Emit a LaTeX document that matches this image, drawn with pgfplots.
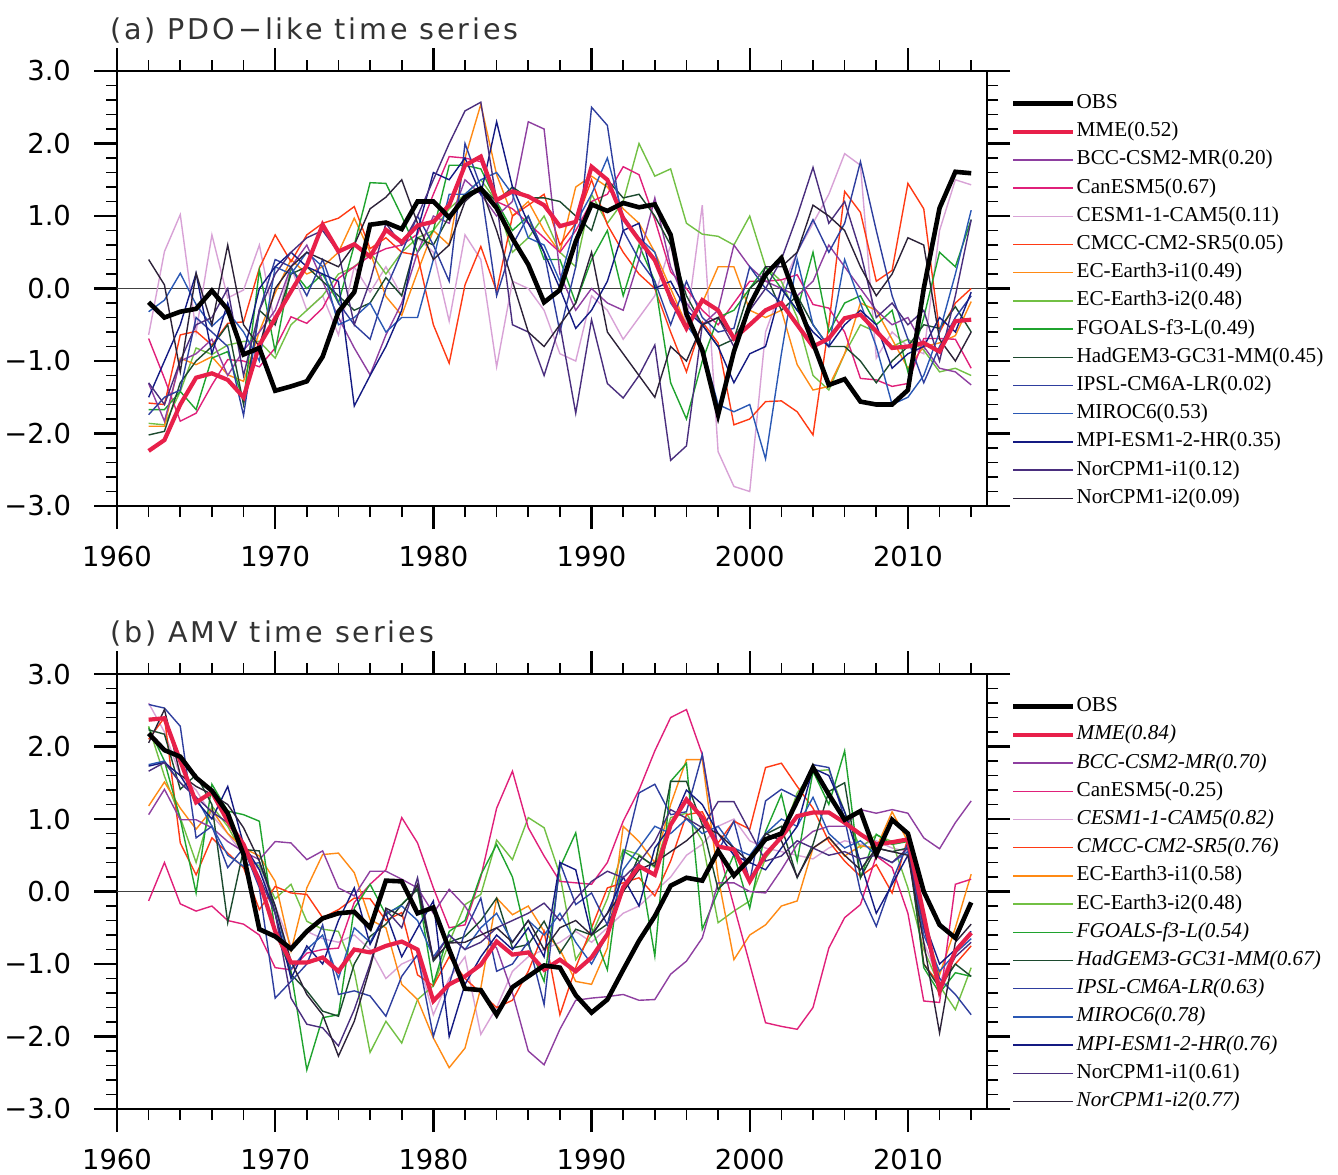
\documentclass[border=0pt]{standalone}
\usepackage{fontspec}
\setmainfont{Liberation Serif}
\newfontfamily\tickfont{DejaVu Sans}
\newfontfamily\titlefont[LetterSpace=10]{DejaVu Sans}
\usepackage{pgfplots}
\pgfplotsset{compat=1.18}
\usepackage{pgfplotstable}

\definecolor{cBCC}{HTML}{8E3FA0}
\definecolor{cCan}{HTML}{E0207A}
\definecolor{cCESM}{HTML}{D8A2D6}
\definecolor{cCMCC}{HTML}{FF3A14}
\definecolor{cECA}{HTML}{FF8A14}
\definecolor{cECB}{HTML}{72C044}
\definecolor{cFGO}{HTML}{1FA32E}
\definecolor{cHad}{HTML}{1C4A2E}
\definecolor{cIPSL}{HTML}{2E3E9E}
\definecolor{cMIROC}{HTML}{2A58B4}
\definecolor{cMPI}{HTML}{141A82}
\definecolor{cNorA}{HTML}{4A2E7E}
\definecolor{cNorB}{HTML}{2C2238}
\definecolor{cMME}{HTML}{E8204A}

% PDO-like time series
\pgfplotstableread{
year obs mme bcc can cesm cmcc ecA ecB fgo had ipsl miroc mpi norA norB
1962 -0.19 -2.24 -1.31 -0.69 -0.64 -1.58 -1.90 -1.86 -1.67 -2.02 -1.74 -0.32 -1.50 -1.30 0.40
1963 -0.40 -2.09 -1.83 -1.24 0.51 -1.60 -1.90 -1.88 -1.67 -1.97 -1.50 -0.16 -1.00 -1.60 0.05
1964 -0.32 -1.60 -1.00 -1.83 1.02 -0.64 -0.96 -1.42 -1.42 -1.30 -1.40 0.21 -0.50 -1.00 -1.15
1965 -0.28 -1.23 -0.90 -1.72 -0.60 -0.59 -1.05 -0.82 -1.67 -1.00 -0.40 -0.22 0.21 -0.50 0.21
1966 -0.03 -1.17 -0.70 -1.33 0.74 -0.78 -0.94 -0.91 -0.96 -0.80 -0.60 -0.52 -0.90 -0.40 -0.50
1967 -0.29 -1.26 -1.20 -0.98 -0.13 -0.48 -1.19 -0.78 -0.87 -0.50 -0.80 -0.32 -0.20 0.00 0.60
1968 -0.91 -1.50 -0.85 -1.00 -0.02 -0.46 -1.28 -0.73 -1.56 -1.60 -1.75 -0.60 -0.90 -1.20 -0.50
1969 -0.82 -0.78 -0.60 -1.08 0.60 0.28 -0.59 -0.73 0.26 -0.30 -0.30 -1.00 0.00 -0.30 -0.80
1970 -1.41 -0.41 -0.30 -0.82 -0.50 0.74 -0.06 -0.96 -0.87 -0.50 0.40 0.30 0.30 0.20 0.00
1971 -1.35 -0.04 0.30 -0.39 0.30 0.37 0.40 -0.50 0.28 0.20 0.30 0.20 0.50 0.50 0.30
1972 -1.28 0.32 0.60 -0.48 -0.30 0.74 0.20 -0.30 0.00 0.30 -0.10 0.50 0.30 0.70 0.50
1973 -0.94 0.88 0.10 -0.27 -0.10 0.90 0.30 -0.10 0.20 0.10 0.40 0.30 0.20 0.80 0.40
1974 -0.32 0.51 -0.40 0.14 -0.64 0.97 0.50 0.20 -0.20 -0.10 -0.20 -0.50 0.10 0.50 0.30
1975 -0.05 0.61 -0.82 0.30 0.30 1.13 0.97 0.30 0.60 -0.30 -0.50 -0.40 -1.62 -0.50 0.60
1976 0.88 0.44 -1.19 0.45 -0.05 0.55 0.50 0.50 1.46 -0.20 -0.70 -0.20 -1.20 0.10 1.10
1977 0.91 0.81 -0.64 0.55 0.30 0.70 -0.11 0.20 1.45 0.15 0.00 -0.60 -0.80 0.90 1.26
1978 0.82 0.64 -0.20 0.60 -0.10 0.50 -0.37 0.50 1.00 -0.10 0.50 -0.40 -0.30 0.60 1.50
1979 1.20 0.87 0.50 0.75 0.70 0.46 0.23 0.70 0.50 0.70 1.00 -0.40 0.80 1.00 0.90
1980 1.20 0.92 1.00 1.30 0.50 -0.50 0.80 0.80 0.80 0.60 0.60 0.40 1.60 1.50 0.40
1981 0.98 1.15 0.90 1.82 -0.45 -1.03 0.60 1.10 1.70 1.00 0.10 1.30 1.50 2.00 0.60
1982 1.26 1.70 1.50 1.80 0.74 0.05 1.80 1.30 1.70 1.30 2.00 1.30 1.80 2.45 1.20
1983 1.38 1.82 1.30 1.75 0.40 0.58 2.54 1.50 1.65 1.40 1.40 1.50 1.30 2.57 1.40
1984 1.11 1.22 1.00 1.20 -1.08 -0.04 1.57 1.20 1.20 1.20 -0.10 1.60 2.30 1.20 0.80
1985 0.69 1.34 1.20 1.10 0.10 1.00 1.00 0.50 0.80 1.40 0.60 1.30 1.40 -0.50 0.10
1986 0.33 1.27 2.30 0.90 0.00 1.15 1.20 0.70 1.00 1.25 1.00 0.70 0.90 -0.60 -0.60
1987 -0.19 1.15 2.20 0.70 -0.30 1.30 0.80 1.00 0.40 1.25 0.50 0.60 0.50 -1.20 -0.80
1988 -0.02 0.86 0.20 0.50 -0.90 0.60 0.50 0.50 0.40 1.20 -0.60 0.10 0.00 -0.50 -0.50
1989 0.65 0.92 -0.30 0.80 -1.00 0.90 1.40 0.30 -0.20 1.00 0.30 0.90 -0.55 -1.72 -0.20
1990 1.16 1.68 0.00 1.20 -0.10 1.50 1.55 1.30 0.40 0.80 2.50 1.30 -0.30 -0.43 0.50
1991 1.07 1.50 -0.20 1.30 -0.30 0.88 1.40 0.90 0.80 1.50 2.25 1.80 0.10 -1.31 -0.60
1992 1.18 0.97 -0.30 1.68 -0.70 0.50 1.10 1.20 -0.10 1.25 0.80 1.00 0.80 -1.51 -0.90
1993 1.12 0.67 0.40 1.57 -0.40 0.20 0.90 2.00 0.60 1.30 0.40 0.70 0.90 -1.20 -1.20
1994 1.16 0.39 1.25 0.95 -0.10 0.00 0.50 1.55 0.10 1.00 0.10 0.50 0.00 -0.78 -1.50
1995 0.74 -0.13 0.30 0.23 0.60 -0.60 0.00 1.65 -1.30 0.60 -0.50 -0.20 0.10 -2.37 -0.80
1996 -0.35 -0.55 -0.20 0.00 -0.50 -1.15 -0.50 0.90 -1.80 -0.10 0.10 -0.50 -0.30 -2.17 -1.00
1997 -0.85 -0.16 -0.50 -0.30 1.15 -0.46 -0.20 0.75 -1.00 -0.50 -0.40 -0.80 -0.50 -0.50 -0.50
1998 -1.74 -0.30 -0.30 -0.50 -2.25 -0.75 0.30 0.72 -0.40 -0.80 -0.60 -1.60 -0.80 -0.40 -0.40
1999 -0.87 -0.69 0.60 -0.20 -2.73 -1.88 0.30 0.60 -0.30 -0.70 -0.55 -1.70 -1.30 -0.80 -0.70
2000 -0.23 -0.50 0.30 0.10 -2.80 -1.80 -0.30 1.00 0.00 0.00 0.30 -1.60 -0.90 -0.30 -0.30
2001 0.19 -0.30 0.10 0.10 -0.60 -1.56 -0.40 0.30 0.30 0.20 0.00 -2.35 -0.80 0.00 0.30
2002 0.42 -0.20 0.00 0.12 0.00 -1.55 -0.30 0.10 0.00 -0.30 -0.20 -0.90 0.00 0.40 0.30
2003 -0.18 -0.50 -0.10 0.19 0.50 -1.70 -1.05 -0.40 -0.30 -0.10 0.50 0.40 -0.30 1.00 0.50
2004 -0.75 -0.80 0.10 -0.22 0.90 -2.02 -1.40 -1.20 0.50 -0.50 0.95 -0.50 -0.60 1.67 1.15
2005 -1.33 -0.69 0.60 -0.27 1.30 -0.50 -1.35 -1.40 -0.60 -0.80 0.50 -0.80 -0.80 0.90 1.00
2006 -1.25 -0.41 0.30 -0.60 1.86 1.34 -0.90 -0.90 -0.20 -0.80 0.90 0.40 -0.50 1.20 0.80
2007 -1.56 -0.36 0.00 -1.24 1.70 1.05 -0.20 -0.50 -0.10 -1.00 1.75 -0.20 -0.30 0.50 0.30
2008 -1.60 -0.59 -0.30 -1.26 -0.96 0.10 -0.30 -0.60 -0.50 -1.30 0.80 -0.80 -0.50 -0.40 -0.10
2009 -1.60 -0.82 -0.50 -1.35 -0.60 0.25 -0.70 -0.80 -0.30 -1.00 -0.10 -1.60 -1.10 -0.20 0.20
2010 -1.40 -0.80 -0.40 -1.31 -0.80 1.45 -1.10 -0.70 -1.15 -0.80 -0.70 -1.50 -0.90 -0.50 0.70
2011 0.00 -0.75 -0.80 -0.69 -0.90 1.10 -0.80 -0.85 -0.40 -0.50 -1.30 -1.20 -0.80 -0.30 0.60
2012 1.11 -0.87 -1.10 -0.69 0.80 -0.60 -0.75 -1.15 0.50 -0.55 -0.80 -0.60 -0.40 -1.00 -0.70
2013 1.61 -0.45 -1.15 -0.70 1.50 -0.20 -0.65 -1.10 0.30 -0.25 -0.40 0.20 -0.60 -0.10 -1.00
2014 1.59 -0.43 -1.33 -1.10 1.43 0.00 -0.18 -1.20 0.95 -0.60 -0.10 1.08 -0.05 0.95 -0.60
}\pdotable

% AMV time series
\pgfplotstableread{
year obs mme bcc can cesm cmcc ecA ecB fgo had ipsl miroc mpi norA norB
1962 2.18 2.37 1.06 -0.13 2.60 2.10 1.18 2.28 2.26 2.23 2.58 1.75 1.73 1.66 2.05
1963 1.95 2.39 1.41 0.40 2.20 2.40 1.51 1.59 1.80 2.17 2.53 1.80 1.78 1.78 2.51
1964 1.86 1.80 0.99 -0.17 1.60 0.67 1.15 1.02 1.00 1.41 2.28 1.50 1.60 1.50 1.61
1965 1.57 1.23 0.99 -0.27 1.40 0.23 0.86 0.40 -0.02 1.61 0.74 1.30 1.25 1.30 1.45
1966 1.39 1.37 0.88 -0.20 1.05 0.74 1.13 1.18 1.48 1.20 0.90 0.90 1.00 1.10 1.34
1967 1.08 0.97 0.69 -0.40 0.80 0.53 0.80 0.90 1.11 -0.43 0.33 0.50 1.45 0.95 1.20
1968 0.51 0.65 0.55 -0.45 0.50 0.33 0.60 0.50 1.06 0.58 0.60 0.35 0.65 0.60 0.88
1969 -0.52 0.14 0.44 -0.60 0.30 -0.25 0.49 0.35 0.97 0.56 0.05 0.40 0.30 0.20 0.42
1970 -0.62 -0.55 0.69 -1.05 -0.20 0.07 0.14 -0.10 -0.55 -0.30 -1.47 -0.20 -0.30 -0.30 -0.20
1971 -0.79 -0.98 0.67 -1.08 -0.75 -0.02 -0.82 0.10 -1.10 -1.14 -1.24 -1.07 -1.20 -1.47 -0.96
1972 -0.55 -0.98 0.44 -0.85 -0.55 -0.04 0.05 -0.41 -2.46 -1.37 -1.00 -0.80 -0.75 -1.83 -1.42
1973 -0.37 -0.91 0.56 -0.80 -0.65 -0.36 0.51 -0.52 -1.74 -1.65 -0.46 -0.60 -1.00 -1.88 -1.70
1974 -0.30 -1.10 0.05 -0.78 -0.70 -0.25 0.53 -0.55 -1.70 -1.72 -1.42 -1.20 -0.40 -2.13 -2.27
1975 -0.28 -0.80 -0.06 -0.15 -0.60 -0.09 0.26 -1.10 -0.23 -1.00 -1.37 -0.50 0.05 -1.63 -1.79
1976 -0.50 -0.84 0.28 0.10 -0.80 -0.10 -0.39 -2.22 0.10 -0.62 -1.44 -0.70 -0.73 -1.00 -1.05
1977 0.15 -0.75 0.28 0.30 -1.20 -0.40 -0.50 -1.79 -0.32 -0.45 -1.72 -0.30 -0.30 -0.25 -0.23
1978 0.14 -0.69 0.17 1.02 -1.00 -0.29 -1.28 -2.09 -0.18 -0.18 -1.17 -0.20 -0.90 -0.50 -0.34
1979 -0.30 -0.80 0.05 0.67 -0.90 -1.15 -1.49 -1.49 0.05 0.03 -0.87 -0.40 -0.50 0.19 0.10
1980 -0.22 -1.51 -0.30 0.05 -1.70 -1.30 -2.02 -1.30 -1.28 -0.96 -2.00 -0.90 -0.13 -0.94 -0.94
1981 -0.80 -1.28 0.03 -0.50 -1.20 -0.90 -2.43 -0.70 -0.55 -0.70 -1.28 -0.60 -2.00 -0.60 -0.71
1982 -1.34 -1.17 -0.20 -0.46 -0.90 -1.20 -2.16 -0.18 -0.40 -0.62 -0.55 -0.80 -1.28 -0.80 -0.70
1983 -1.36 -1.01 -0.55 0.20 -1.97 -1.40 -1.33 -0.04 0.23 -0.40 -0.09 -0.50 -0.90 -0.70 -0.60
1984 -1.70 -0.69 -0.78 1.15 -1.60 -1.60 -0.09 0.71 0.65 -0.09 -1.10 -0.30 -0.60 -0.50 -0.50
1985 -1.32 -0.87 -1.40 1.66 -1.10 -1.50 -0.32 0.44 0.20 -0.78 -1.00 -0.70 -0.80 -0.40 -0.70
1986 -1.17 -0.84 -2.20 0.88 -0.90 -1.10 -0.20 1.02 -0.73 -0.73 -0.69 -0.40 -0.50 -0.30 -0.40
1987 -1.02 -1.08 -2.39 0.49 -0.80 -0.55 -0.55 0.88 -1.24 -0.41 -1.56 -0.60 -0.90 -0.16 -0.80
1988 -1.05 -0.94 -1.90 0.14 -0.70 -1.70 -0.80 0.23 0.33 -0.85 0.40 -0.30 0.40 -0.40 -0.50
1989 -1.43 -1.10 -1.50 0.12 -0.55 -1.05 -1.24 -0.94 0.81 -0.52 -0.18 -0.70 0.30 -0.10 -0.40
1990 -1.67 -0.91 -1.47 0.10 -0.70 -0.50 -1.28 -0.60 -0.50 -0.60 -0.02 -1.00 -0.60 0.14 -0.60
1991 -1.49 -0.59 -1.45 0.40 -0.50 0.05 -0.78 -0.10 -1.08 -0.45 -0.46 -0.60 -0.30 0.28 -0.30
1992 -1.08 0.06 -1.42 0.97 -0.30 0.12 0.90 0.58 0.56 0.00 0.46 0.30 0.20 0.19 0.00
1993 -0.68 0.35 -1.50 1.40 -0.20 0.19 0.69 0.51 0.42 0.49 1.36 0.60 -0.20 0.40 0.30
1994 -0.34 0.23 -1.49 1.94 0.00 -0.06 0.40 0.33 -0.89 0.35 1.48 0.90 0.60 0.69 0.40
1995 0.08 0.92 -1.14 2.40 0.20 0.42 1.20 1.02 1.52 1.52 1.06 0.80 0.90 1.13 0.55
1996 0.19 1.27 -0.96 2.51 0.50 1.06 1.82 1.08 1.77 1.52 1.10 1.00 1.40 1.01 0.70
1997 0.15 1.02 -0.64 1.89 0.65 1.10 1.82 0.70 -0.52 0.92 1.89 0.80 1.20 0.88 0.90
1998 0.56 0.62 0.12 0.60 0.90 0.67 0.20 -0.43 0.00 0.03 0.56 0.90 0.80 1.24 0.80
1999 0.22 0.58 0.12 -0.20 1.00 0.97 -0.94 -0.27 0.51 0.25 0.97 0.60 0.50 1.24 0.60
2000 0.45 0.14 0.00 -1.00 0.70 0.86 -0.60 -0.13 -0.23 0.42 0.14 0.50 0.40 0.83 0.40
2001 0.72 0.51 -0.02 -1.81 0.60 1.71 -0.46 0.46 0.83 0.79 1.25 0.80 0.30 0.42 0.80
2002 0.80 0.75 0.30 -1.86 0.55 1.77 -0.20 0.74 1.34 0.90 1.41 1.00 0.60 0.49 0.70
2003 1.25 1.04 0.65 -1.90 0.50 1.45 -0.13 1.36 0.42 0.19 1.30 0.90 0.90 0.70 0.20
2004 1.71 1.09 0.83 -1.60 0.45 1.15 0.60 1.66 1.66 0.65 1.75 1.30 1.70 0.60 0.60
2005 1.34 1.09 0.90 -0.78 0.60 0.69 0.74 1.68 1.20 1.38 1.71 0.80 1.60 0.50 0.75
2006 0.99 0.95 0.90 -0.36 0.70 0.42 0.49 1.10 1.94 1.50 1.00 0.60 1.10 0.55 0.50
2007 1.11 0.79 1.13 -0.18 0.65 0.21 0.63 0.60 0.19 0.19 0.00 0.70 0.40 0.45 0.30
2008 0.51 0.65 1.08 0.49 0.70 0.37 0.60 0.78 0.79 0.60 -0.48 0.50 -0.30 0.50 0.60
2009 0.99 0.68 1.13 0.33 0.60 -0.02 1.10 0.69 0.65 0.55 0.14 0.40 0.10 0.40 0.55
2010 0.80 0.72 1.08 -0.30 0.55 0.74 0.69 0.05 0.69 0.60 0.67 0.55 0.50 0.60 0.50
2011 0.00 -0.32 0.74 -1.51 -0.70 -1.00 -0.41 -0.80 -1.05 -1.00 -0.50 -0.60 -0.40 -0.50 -0.70
2012 -0.46 -1.37 0.59 -1.53 -1.25 -1.28 -1.15 -1.30 -1.40 -1.33 -1.20 -1.10 -1.00 -1.30 -1.95
2013 -0.64 -0.82 0.95 0.10 -0.80 -1.00 -0.50 -1.63 -1.12 -1.00 -1.42 -0.85 -0.80 -0.90 -0.70
2014 -0.15 -0.57 1.25 0.17 -0.60 -0.75 0.24 -1.05 -1.17 -1.17 -1.70 -0.65 -0.55 -0.70 -0.45
}\amvtable

\pgfplotsset{
  panel/.style={
    scale only axis, width=435pt, height=217.5pt,
    xmin=1960, xmax=2015, ymin=-3, ymax=3,
    xtick={1960,1970,1980,1990,2000,2010},
    xticklabels={1960,1970,1980,1990,2000,2010},
    ytick={-3,-2,-1,0,1,2,3},
    yticklabels={−3.0,−2.0,−1.0,0.0,1.0,2.0,3.0},
    minor xtick={1962,1964,1966,1968,1972,1974,1976,1978,1982,1984,1986,1988,1992,1994,1996,1998,2002,2004,2006,2008,2012,2014},
    minor ytick={-2.8,-2.6,-2.4,-2.2,-1.8,-1.6,-1.4,-1.2,-0.8,-0.6,-0.4,-0.2,0.2,0.4,0.6,0.8,1.2,1.4,1.6,1.8,2.2,2.4,2.6,2.8},
    tick align=outside,
    major tick length=11.5pt, minor tick length=5.5pt,
    axis line style={line width=1.4pt},
    every major tick/.append style={line width=1.2pt, black},
    every minor tick/.append style={line width=0.8pt, black},
    ticklabel style={font=\tickfont\fontsize{13.7}{16}\selectfont},
    yticklabel style={xshift=-8pt},
    xticklabel style={yshift=-5pt},
    legend style={at={(1.020,0.961)}, anchor=north west, draw=none, fill=none,
      font=\fontsize{10.6}{12}\selectfont, row sep=2.9pt, column sep=0pt,
      nodes={inner sep=0.6pt, text height=7.5pt, text depth=2.5pt}},
    legend cell align=left,
    legend image code/.code={\draw[##1] (0pt,0pt) -- (30pt,0pt);},
    clip=true,
  },
  model/.style={forget plot, line width=0.7pt},
}

\newcommand{\drawall}[1]{%
  \addplot[forget plot, black!75, line width=0.6pt] coordinates {(1960,0) (2015,0)};
  \addplot[model, cCESM]  table[x=year, y=cesm]  {#1};
  \addplot[model, cECB]   table[x=year, y=ecB]   {#1};
  \addplot[model, cECA]   table[x=year, y=ecA]   {#1};
  \addplot[model, cCMCC]  table[x=year, y=cmcc]  {#1};
  \addplot[model, cCan]   table[x=year, y=can]   {#1};
  \addplot[model, cFGO]   table[x=year, y=fgo]   {#1};
  \addplot[model, cBCC]   table[x=year, y=bcc]   {#1};
  \addplot[model, cHad]   table[x=year, y=had]   {#1};
  \addplot[model, cIPSL]  table[x=year, y=ipsl]  {#1};
  \addplot[model, cMIROC] table[x=year, y=miroc] {#1};
  \addplot[model, cMPI]   table[x=year, y=mpi]   {#1};
  \addplot[model, cNorA]  table[x=year, y=norA]  {#1};
  \addplot[model, cNorB]  table[x=year, y=norB]  {#1};
  \addplot[forget plot, cMME, line width=2.1pt] table[x=year, y=mme] {#1};
  \addplot[forget plot, black, line width=2.3pt] table[x=year, y=obs] {#1};
}

\begin{document}
\begin{tikzpicture}
% ---------- panel (a) ----------
\begin{axis}[panel, name=pa, at={(58.5pt,-253pt)}, anchor=south west]
  \addlegendimage{black, line width=2.3pt}\addlegendentry{OBS}
  \addlegendimage{cMME, line width=2.1pt}\addlegendentry{MME(0.52)}
  \addlegendimage{cBCC, line width=0.7pt}\addlegendentry{BCC-CSM2-MR(0.20)}
  \addlegendimage{cCan, line width=0.7pt}\addlegendentry{CanESM5(0.67)}
  \addlegendimage{cCESM, line width=0.7pt}\addlegendentry{CESM1-1-CAM5(0.11)}
  \addlegendimage{cCMCC, line width=0.7pt}\addlegendentry{CMCC-CM2-SR5(0.05)}
  \addlegendimage{cECA, line width=0.7pt}\addlegendentry{EC-Earth3-i1(0.49)}
  \addlegendimage{cECB, line width=0.7pt}\addlegendentry{EC-Earth3-i2(0.48)}
  \addlegendimage{cFGO, line width=0.7pt}\addlegendentry{FGOALS-f3-L(0.49)}
  \addlegendimage{cHad, line width=0.7pt}\addlegendentry{HadGEM3-GC31-MM(0.45)}
  \addlegendimage{cIPSL, line width=0.7pt}\addlegendentry{IPSL-CM6A-LR(0.02)}
  \addlegendimage{cMIROC, line width=0.7pt}\addlegendentry{MIROC6(0.53)}
  \addlegendimage{cMPI, line width=0.7pt}\addlegendentry{MPI-ESM1-2-HR(0.35)}
  \addlegendimage{cNorA, line width=0.7pt}\addlegendentry{NorCPM1-i1(0.12)}
  \addlegendimage{cNorB, line width=0.7pt}\addlegendentry{NorCPM1-i2(0.09)}
  \drawall{\pdotable}
\end{axis}
\node[anchor=base west, font=\titlefont\fontsize{14.3}{16}\selectfont, text=black!80, inner sep=0pt]
  at ([xshift=-3.5pt, yshift=16pt]pa.north west) {(a) PDO−like time series};
% ---------- panel (b) ----------
\begin{axis}[panel, name=pb, at={(58.5pt,-554.5pt)}, anchor=south west]
  \addlegendimage{black, line width=2.3pt}\addlegendentry{OBS}
  \addlegendimage{cMME, line width=2.1pt}\addlegendentry{\textit{MME(0.84)}}
  \addlegendimage{cBCC, line width=0.7pt}\addlegendentry{\textit{BCC-CSM2-MR(0.70)}}
  \addlegendimage{cCan, line width=0.7pt}\addlegendentry{CanESM5(-0.25)}
  \addlegendimage{cCESM, line width=0.7pt}\addlegendentry{\textit{CESM1-1-CAM5(0.82)}}
  \addlegendimage{cCMCC, line width=0.7pt}\addlegendentry{\textit{CMCC-CM2-SR5(0.76)}}
  \addlegendimage{cECA, line width=0.7pt}\addlegendentry{EC-Earth3-i1(0.58)}
  \addlegendimage{cECB, line width=0.7pt}\addlegendentry{EC-Earth3-i2(0.48)}
  \addlegendimage{cFGO, line width=0.7pt}\addlegendentry{\textit{FGOALS-f3-L(0.54)}}
  \addlegendimage{cHad, line width=0.7pt}\addlegendentry{\textit{HadGEM3-GC31-MM(0.67)}}
  \addlegendimage{cIPSL, line width=0.7pt}\addlegendentry{\textit{IPSL-CM6A-LR(0.63)}}
  \addlegendimage{cMIROC, line width=0.7pt}\addlegendentry{\textit{MIROC6(0.78)}}
  \addlegendimage{cMPI, line width=0.7pt}\addlegendentry{\textit{MPI-ESM1-2-HR(0.76)}}
  \addlegendimage{cNorA, line width=0.7pt}\addlegendentry{NorCPM1-i1(0.61)}
  \addlegendimage{cNorB, line width=0.7pt}\addlegendentry{\textit{NorCPM1-i2(0.77)}}
  \drawall{\amvtable}
\end{axis}
\node[anchor=base west, font=\titlefont\fontsize{14.3}{16}\selectfont, text=black!80, inner sep=0pt]
  at ([xshift=-3.5pt, yshift=16pt]pb.north west) {(b) AMV time series};
\pgfresetboundingbox
\path[use as bounding box] (0pt,0pt) rectangle (669pt,-587pt);
\end{tikzpicture}
\end{document}
